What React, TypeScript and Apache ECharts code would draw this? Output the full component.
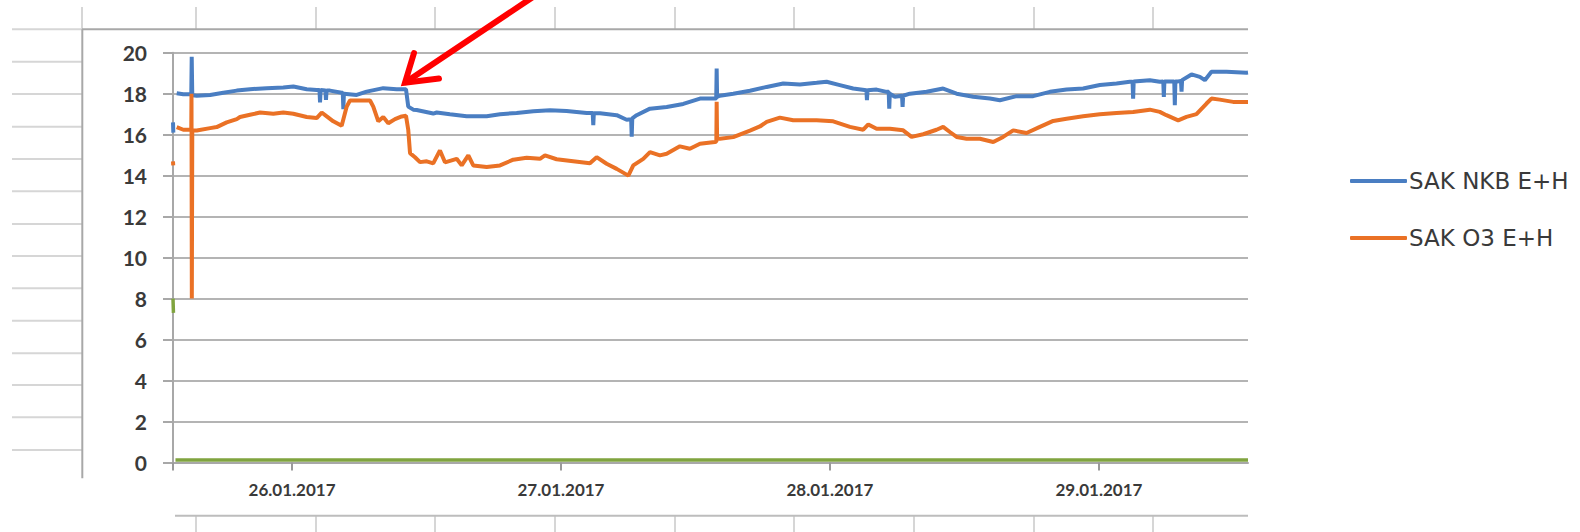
import React, { useEffect, useRef } from "react";
import * as echarts from "echarts";

// x values are hours since 26.01.2017 00:00
const X_MIN = -10.62;
const X_MAX = 85.3;
const dateTickHours = [0, 24, 48, 72];
const dateTickLabels = ["26.01.2017", "27.01.2017", "28.01.2017", "29.01.2017"];

const seriesNames = ["SAK NKB E+H", "SAK O3 E+H", "Serie 3"];

const nkbHours = [
  -10.62, -10.59, -10.45, -10.29, -9.7, -8.99, -8.95, -8.9, -8.5, -7.31, -6.13, -4.93, -3.75, -2.26,
  -0.78, 0.12, 1.31, 2.2, 2.45, 2.5, 2.55, 2.98, 3.03, 3.08, 3.39, 4.43, 4.53, 4.58, 4.63, 5.77, 6.66,
  8.14, 9.34, 10.17, 10.37, 10.82, 11.12, 12.6, 12.91, 14.09, 15.58, 17.37, 18.56, 20.04, 21.53,
  23.02, 24.5, 26.29, 26.83, 26.88, 26.93, 27.48, 28.97, 29.86, 30.26, 30.31, 30.36, 30.75, 31.94,
  33.43, 34.91, 36.4, 37.58, 37.85, 37.89, 37.93, 38.18, 39.37, 40.86, 42.35, 43.83, 45.32, 46.81,
  47.7, 48.88, 50.07, 51.25, 51.3, 51.35, 52.16, 53.05, 53.24, 53.29, 53.34, 53.79, 54.43, 54.48,
  54.53, 55.13, 56.62, 58.1, 59.3, 60.78, 62.27, 63.16, 64.65, 66.13, 67.62, 69.11, 70.59, 72.08,
  73.57, 74.76, 75.0, 75.05, 75.1, 76.54, 77.43, 77.74, 77.79, 77.84, 78.17, 78.72, 78.77, 78.82,
  79.07, 79.32, 79.37, 79.42, 80.26, 81.0, 81.45, 82.04, 83.38, 85.17, 85.3,
];
const nkbValues = [
  16.6, 16.1, null, 18.02, 17.97, 17.97, 19.8, 17.92, 17.9, 17.94, 18.05, 18.15, 18.22, 18.27,
  18.3, 18.35, 18.22, 18.18, 18.18, 17.57, 18.18, 18.15, 17.7, 18.15, 18.15, 18.05, 18.05, 17.24, 18.0, 17.94, 18.1,
  18.27, 18.22, 18.22, 17.37, 17.22, 17.2, 17.03, 17.08, 17.0, 16.9, 16.9, 17.0, 17.06, 17.14,
  17.19, 17.16, 17.06, 17.06, 16.46, 17.05, 17.04, 16.95, 16.73, 16.75, 15.9, 16.8, 16.95, 17.27,
  17.35, 17.5, 17.76, 17.76, 17.76, 19.23, 17.85, 17.9, 18.0, 18.14, 18.33, 18.5, 18.45, 18.53,
  18.58, 18.42, 18.25, 18.17, 17.68, 18.17, 18.2, 18.09, 18.09, 17.27, 18.0, 17.85, 17.9, 17.36,
  17.9, 18.0, 18.09, 18.25, 18.0, 17.85, 17.76, 17.68, 17.88, 17.88, 18.09, 18.2, 18.25, 18.42,
  18.5, 18.58, 18.58, 17.76, 18.6, 18.66, 18.58, 18.6, 17.84, 18.6, 18.6, 18.6, 17.44, 18.6,
  18.6, 18.62, 18.1, 18.66, 18.94, 18.82, 18.66, 19.07, 19.07, 19.02, 19.03,
];

const o3Hours = [
  -10.62, -10.6, -10.45, -10.29, -9.7, -8.99, -8.97, -8.94, -8.9, -8.5, -7.31, -6.72, -5.83, -4.93,
  -4.64, -3.75, -2.85, -1.67, -0.78, 0.12, 1.31, 2.2, 2.65, 3.1, 3.68, 4.43, 4.88, 5.17, 6.07, 6.96,
  7.25, 7.7, 8.14, 8.59, 9.19, 9.79, 10.17, 10.37, 10.53, 10.97, 11.42, 12.02, 12.6, 13.2, 13.65,
  14.69, 15.14, 15.73, 16.17, 17.37, 18.56, 19.74, 20.94, 22.12, 22.57, 23.61, 25.09, 26.58, 27.18,
  28.07, 28.97, 30.01, 30.45, 31.34, 31.94, 32.83, 33.43, 34.61, 35.5, 36.4, 37.73, 37.86, 37.89,
  37.93, 38.18, 39.37, 40.86, 41.75, 42.35, 43.53, 44.72, 45.91, 46.81, 48.29, 49.78, 50.97, 51.42,
  52.16, 53.35, 54.53, 55.28, 56.32, 57.51, 58.1, 58.7, 59.3, 60.19, 61.38, 62.57, 63.45, 64.35,
  65.54, 66.73, 67.92, 69.11, 70.59, 72.08, 73.57, 75.05, 76.54, 77.43, 78.02, 79.07, 79.81, 80.7,
  81.6, 82.04, 82.78, 83.97, 85.17, 85.3,
];
const o3Values = [
  14.7, 14.5, null, 16.37, 16.24, 16.24, 18.0, 8.0, 16.2, 16.2, 16.32, 16.37, 16.6, 16.76,
  16.86, 16.97, 17.08, 17.02, 17.08, 17.02, 16.86, 16.81, 17.08, 16.89, 16.65, 16.43, 17.37, 17.67, 17.67, 17.67,
  17.37, 16.65, 16.86, 16.56, 16.76, 16.89, 16.92, 16.24, 15.1, 14.9, 14.66, 14.7, 14.6, 15.23, 14.65,
  14.82, 14.5, 14.99, 14.5, 14.42, 14.5, 14.78, 14.87, 14.82, 14.99, 14.8, 14.7, 14.6, 14.9,
  14.58, 14.33, 14.0, 14.5, 14.82, 15.15, 14.99, 15.07, 15.43, 15.31, 15.56, 15.64, 15.66, 17.6,
  15.8, 15.8, 15.88, 16.2, 16.4, 16.62, 16.83, 16.7, 16.7, 16.7, 16.65, 16.38, 16.24, 16.5,
  16.29, 16.29, 16.21, 15.89, 16.02, 16.24, 16.38, 16.13, 15.89, 15.8, 15.8, 15.64, 15.89, 16.21,
  16.08, 16.38, 16.67, 16.78, 16.9, 17.0, 17.06, 17.11, 17.22, 17.11, 16.95, 16.7, 16.87, 17.0,
  17.52, 17.76, 17.71, 17.6, 17.6, 17.6,
];

const thirdHours = [-10.62, -10.58, -10.5, -10.4, 85.3];
const thirdValues = [8.0, 7.3, null, 0.12, 0.12];

const colors = ["#4A7EC2", "#EA7125", "#80A43F"];

function pairs(h: number[], v: (number | null)[]) {
  return h.map((x, i) => [x, v[i] === null ? "-" : v[i]]);
}

export default function App() {
  const ref = useRef<HTMLDivElement>(null);
  useEffect(() => {
    if (!ref.current) return;
    const chart = echarts.init(ref.current, undefined, { renderer: "svg" });
    const sheetGray = "#D6D6D6";
    const borderGray = "#A8A8A8";
    const leftRows = [61.7, 94, 126.7, 159, 191.3, 224, 256, 288.3, 320.7, 353.3, 385, 417.3, 450];
    const cols = [196, 316, 435, 555, 675, 794, 914, 1034, 1153];
    const graphics: any[] = [];
    leftRows.forEach((y) =>
      graphics.push({ type: "line", shape: { x1: 12, y1: y, x2: 82, y2: y }, style: { stroke: sheetGray, lineWidth: 2 } })
    );
    graphics.push({ type: "line", shape: { x1: 12, y1: 29.3, x2: 82, y2: 29.3 }, style: { stroke: sheetGray, lineWidth: 2 } });
    [82, ...cols].forEach((x) =>
      graphics.push({ type: "line", shape: { x1: x, y1: 7, x2: x, y2: 29 }, style: { stroke: sheetGray, lineWidth: 2 } })
    );
    cols.forEach((x) =>
      graphics.push({ type: "line", shape: { x1: x, y1: 516, x2: x, y2: 532 }, style: { stroke: sheetGray, lineWidth: 2 } })
    );
    graphics.push({ type: "line", shape: { x1: 175, y1: 515.7, x2: 1248, y2: 515.7 }, style: { stroke: "#BDBDBD", lineWidth: 2 } });
    graphics.push({ type: "line", shape: { x1: 82, y1: 29.3, x2: 1248, y2: 29.3 }, style: { stroke: borderGray, lineWidth: 2 } });
    graphics.push({ type: "line", shape: { x1: 82.3, y1: 29.3, x2: 82.3, y2: 478.3 }, style: { stroke: borderGray, lineWidth: 2 } });
    // red annotation arrow
    graphics.push({
      type: "line",
      z: 100,
      shape: { x1: 406, y1: 82, x2: 536, y2: -5 },
      style: { stroke: "#FF0000", lineWidth: 6, lineCap: "round" },
    });
    graphics.push({
      type: "polyline",
      z: 100,
      shape: { points: [[414, 53], [405, 82.7], [439, 78.5]] },
      style: { stroke: "#FF0000", lineWidth: 6, lineJoin: "miter", lineCap: "round", fill: "none" },
    });

    const textColor = "#3A3A3A";
    chart.setOption({
      animation: false,
      backgroundColor: "#FFFFFF",
      color: colors,
      grid: { left: 173, right: 332, top: 52.7, bottom: 69.5, containLabel: false },
      legend: {
        data: [seriesNames[0], seriesNames[1]],
        orient: "vertical",
        left: 1345,
        top: 164,
        icon: "roundRect",
        itemWidth: 57,
        itemHeight: 4,
        itemGap: 33,
        textStyle: { fontSize: 23, color: textColor, fontFamily: "DejaVu Sans", lineHeight: 24, padding: [0, 0, 0, -3] },
      },
      xAxis: {
        type: "value",
        min: X_MIN,
        max: X_MAX,
        axisLine: { show: true, onZero: false, lineStyle: { color: borderGray, width: 2 } },
        axisTick: {
          show: true,
          length: 8,
          customValues: [X_MIN, ...dateTickHours],
          lineStyle: { color: "#9A9A9A", width: 2 },
        },
        axisLabel: {
          customValues: dateTickHours,
          margin: 18,
          fontSize: 17,
          fontWeight: "bold",
          fontFamily: "Lato",
          color: textColor,
          formatter: (v: number) => {
            const i = dateTickHours.findIndex((h) => Math.abs(h - v) < 1e-6);
            return i >= 0 ? dateTickLabels[i] : "";
          },
        },
        splitLine: { show: false },
      },
      yAxis: {
        type: "value",
        min: 0,
        max: 20,
        interval: 2,
        axisLine: { show: true, onZero: false, lineStyle: { color: borderGray, width: 2 } },
        axisTick: { show: true, length: 10, lineStyle: { color: borderGray, width: 2 } },
        axisLabel: { margin: 26, fontSize: 21, fontWeight: "bold", fontFamily: "Lato", color: textColor },
        splitLine: { show: true, lineStyle: { color: "#B4B4B4", width: 2 } },
      },
      series: [
        {
          name: seriesNames[0],
          type: "line",
          showSymbol: false,
          connectNulls: false,
          lineStyle: { width: 4, color: colors[0] },
          data: pairs(nkbHours, nkbValues),
        },
        {
          name: seriesNames[1],
          type: "line",
          showSymbol: false,
          connectNulls: false,
          lineStyle: { width: 4, color: colors[1] },
          data: pairs(o3Hours, o3Values),
        },
        {
          name: seriesNames[2],
          type: "line",
          showSymbol: false,
          connectNulls: false,
          lineStyle: { width: 3.5, color: colors[2] },
          data: pairs(thirdHours, thirdValues),
        },
      ],
      graphic: graphics,
    });
    return () => chart.dispose();
  }, []);
  return (
    <div
      ref={ref}
      style={{ position: "absolute", left: 0, top: 0, width: 1580, height: 532, background: "#fff" }}
    />
  );
}
